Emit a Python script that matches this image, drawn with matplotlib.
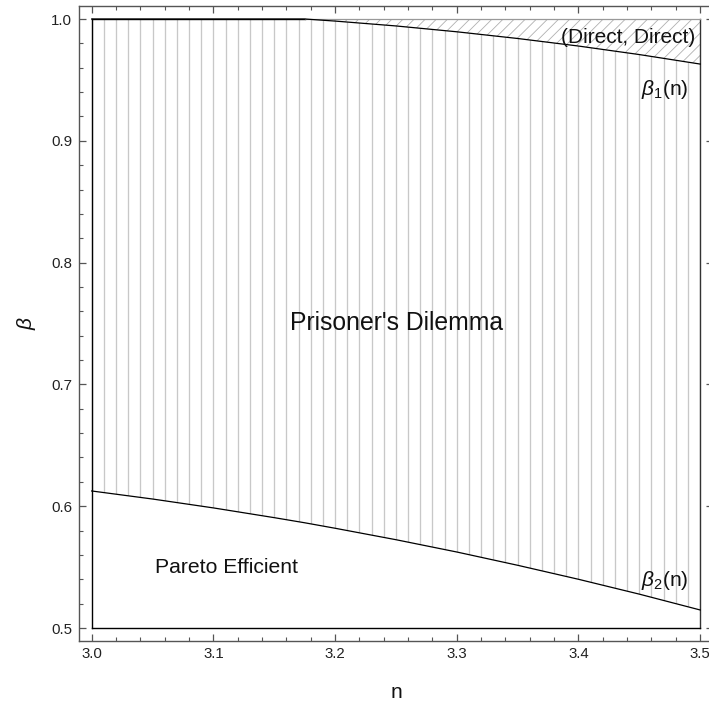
import numpy as np
import matplotlib
matplotlib.use("Agg")
import matplotlib.pyplot as plt

plt.rcParams['font.family'] = ['Liberation Sans', 'DejaVu Sans']
plt.rcParams['mathtext.fontset'] = 'custom'
plt.rcParams['mathtext.rm'] = 'Liberation Sans'
plt.rcParams['mathtext.it'] = 'Liberation Sans:italic'
plt.rcParams['hatch.linewidth'] = 0.6

# Threshold curves as functions of n
n_vals = [3.00, 3.05, 3.10, 3.15, 3.175, 3.20, 3.25, 3.30, 3.35, 3.40, 3.45, 3.50]
beta1 = [1.000, 1.000, 1.000, 1.000, 1.000, 0.9983, 0.9943, 0.9895, 0.9840, 0.9778, 0.9708, 0.9630]
beta2 = [0.6125, 0.6059, 0.5986, 0.5906, 0.5864, 0.5819, 0.5725, 0.5624, 0.5515, 0.5400, 0.5278, 0.5148]

n_range = (3.0, 3.5)
beta_range = (0.5, 1.0)
x_ticks = [3.0, 3.1, 3.2, 3.3, 3.4, 3.5]
y_ticks = [0.5, 0.6, 0.7, 0.8, 0.9, 1.0]

n = np.array(n_vals)
b1 = np.array(beta1)
b2 = np.array(beta2)

fig = plt.figure(figsize=(7.09, 7.05), dpi=100)
ax = fig.add_axes([78.7 / 709, 64 / 705, (713.2 - 78.7) / 709, (641 - 5.7) / 705])
ax.set_xlim(2.98932, 3.5107)
ax.set_ylim(0.48933, 1.01092)

# Prisoner's Dilemma region: vertical line texture clipped to the band
pd = ax.fill_between(n, b2, b1, facecolor='none', edgecolor='none', linewidth=0)
xs = np.arange(3.0, 3.5001, 0.01)
vl = ax.vlines(xs, beta_range[0], beta_range[1], colors='#c8c8c8', linewidth=0.95, zorder=1)
vl.set_clip_path(pd.get_paths()[0], ax.transData)

# (Direct, Direct) region above beta1
ax.fill_between(n, b1, beta_range[1], facecolor='none', edgecolor='#b0b0b0',
                linewidth=0, hatch='///', zorder=1)

# Region boundaries
ax.plot([n_range[0], n_range[0]], beta_range, color='black', lw=1.0, zorder=3)
ax.plot([n_range[1], n_range[1]], beta_range, color='#333333', lw=1.0, zorder=3)
ax.plot(n_range, [beta_range[0], beta_range[0]], color='black', lw=1.0, zorder=3)
ax.plot([n_range[0], 3.175], [beta_range[1], beta_range[1]], color='black', lw=1.0, zorder=3)
ax.plot([3.175, n_range[1]], [beta_range[1], beta_range[1]], color='#999999', lw=0.9, zorder=3)
ax.plot(n, b1, color='black', lw=0.9, zorder=3)
ax.plot(n, b2, color='black', lw=0.9, zorder=3)

# Region labels
ax.text(3.2505, 0.7504, "Prisoner's Dilemma", fontsize=17.8, ha='center', va='center', color='#111111')
ax.text(3.1107, 0.5493, "Pareto Efficient", fontsize=15.2, ha='center', va='center', color='#111111')
ax.text(3.4409, 0.9852, "(Direct, Direct)", fontsize=15.0, ha='center', va='center', color='#111111')
ax.text(3.4707, 0.9425, r"$\beta_1$(n)", fontsize=15.0, ha='center', va='center', color='#111111')
ax.text(3.4707, 0.5386, r"$\beta_2$(n)", fontsize=15.0, ha='center', va='center', color='#111111')

# Frame styling
for s in ax.spines.values():
    s.set_color('#555555')
    s.set_linewidth(1.0)
ax.set_xticks(x_ticks)
ax.set_yticks(y_ticks)
ax.set_xticks(np.arange(3.0, 3.5001, 0.02), minor=True)
ax.set_yticks(np.arange(0.5, 1.0001, 0.02), minor=True)
ax.set_xticklabels([f"{v:.1f}" for v in x_ticks])
ax.set_yticklabels([f"{v:.1f}" for v in y_ticks])
ax.tick_params(which='both', direction='in', top=True, right=True, color='#555555',
               labelcolor='#222222', labelsize=10.8)
ax.tick_params(which='major', length=4.8, width=0.9)
ax.tick_params(which='minor', length=3.1, width=0.8)
ax.tick_params(axis='x', pad=4.0)
ax.tick_params(axis='y', pad=4.8)

ax.set_xlabel("n", fontsize=15, color='#111111', labelpad=16)
ax.set_ylabel(r"$\beta$", fontsize=15, color='#111111', labelpad=9)

fig.savefig("out.png", dpi=100)
